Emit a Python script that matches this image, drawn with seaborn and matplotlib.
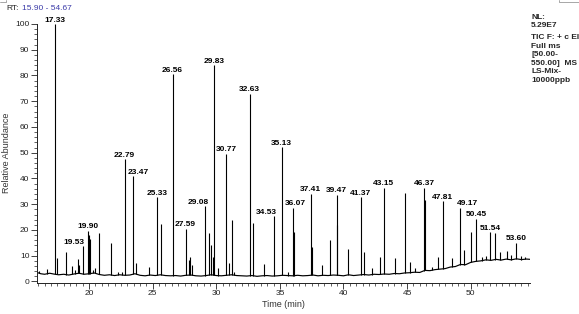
import numpy as np
import pandas as pd
import matplotlib
matplotlib.use("Agg")
import matplotlib.pyplot as plt
import seaborn as sns
from matplotlib.ticker import MultipleLocator
from matplotlib.lines import Line2D

# ---------------- data ----------------
peak_rt = [16.05, 16.66, 17.33, 17.45, 18.18, 18.65, 18.89, 19.15, 19.22, 19.53,
           19.90, 19.99, 20.09, 20.30, 20.50, 20.77, 21.74, 22.30, 22.56, 22.79,
           23.47, 23.68, 24.73, 25.33, 25.62, 26.56, 27.59, 27.85, 27.93, 28.11,
           29.08, 29.45, 29.58, 29.76, 29.83, 30.15, 30.77, 31.02, 31.26, 31.40,
           32.63, 32.90, 33.72, 34.53, 35.13, 35.66, 36.07, 36.13, 37.41, 37.54,
           38.35, 38.94, 39.47, 39.52, 40.32, 41.37, 41.61, 42.26, 42.87, 43.15,
           44.05, 44.83, 45.22, 45.62, 46.37, 46.45, 47.00, 47.40, 47.81, 48.50,
           49.17, 49.49, 50.02, 50.45, 50.90, 51.20, 51.54, 51.88, 52.30, 52.87,
           53.20, 53.60, 54.00, 54.30]
peak_height = [4.0, 4.8, 100.0, 9.0, 11.5, 6.0, 4.3, 8.6, 6.5, 13.7,
               19.7, 18.0, 16.4, 4.6, 5.2, 18.7, 14.8, 3.5, 3.6, 47.4,
               40.9, 7.2, 5.5, 32.7, 22.5, 80.4, 20.5, 8.5, 9.4, 6.4,
               29.2, 19.0, 14.0, 9.6, 83.9, 5.1, 49.6, 7.0, 23.9, 3.8,
               72.9, 22.8, 6.6, 25.4, 52.2, 3.8, 28.6, 19.3, 34.1, 13.5,
               6.4, 16.3, 33.7, 22.0, 12.5, 32.7, 11.6, 5.1, 9.5, 36.4,
               9.0, 34.2, 7.5, 5.3, 36.4, 31.6, 5.5, 9.4, 31.1, 9.0,
               28.6, 12.2, 19.3, 24.3, 9.5, 10.0, 19.1, 18.7, 11.6, 12.0,
               10.3, 15.0, 9.8, 9.6]

labeled_rt = [17.33, 19.53, 19.90, 22.79, 23.47, 25.33, 26.56, 27.59, 29.08, 29.83,
              30.77, 32.63, 34.53, 35.13, 36.07, 37.41, 39.47, 41.37, 43.15, 46.37,
              47.81, 49.17, 50.45, 51.54, 53.60]
labeled_text = ["17.33", "19.53", "19.90", "22.79", "23.47", "25.33", "26.56", "27.59",
                "29.08", "29.83", "30.77", "32.63", "34.53", "35.13", "36.07", "37.41",
                "39.47", "41.37", "43.15", "46.37", "47.81", "49.17", "50.45", "51.54",
                "53.60"]

base_rt = [15.90, 16.2, 16.5, 16.9, 17.2, 17.6, 18.0, 18.4, 18.8, 19.2, 19.6, 20.0,
           20.4, 20.8, 21.2, 21.6, 22.0, 22.4, 22.8, 23.2, 23.6, 24.0, 24.4, 24.8,
           25.2, 25.6, 26.0, 26.4, 26.8, 27.2, 27.6, 28.0, 28.4, 28.8, 29.2, 29.6,
           30.0, 30.4, 30.8, 31.2, 31.6, 32.0, 32.4, 32.8, 33.2, 33.6, 34.0, 34.4,
           34.8, 35.2, 35.6, 36.0, 36.4, 36.8, 37.2, 37.6, 38.0, 38.4, 38.8, 39.2,
           39.6, 40.0, 40.4, 40.8, 41.2, 41.6, 42.0, 42.4, 42.8, 43.2, 43.6, 44.0,
           44.4, 44.8, 45.2, 45.6, 46.0, 46.4, 46.8, 47.2, 47.6, 48.0, 48.4, 48.8,
           49.2, 49.6, 50.0, 50.4, 50.8, 51.2, 51.6, 52.0, 52.4, 52.8, 53.2, 53.6,
           54.0, 54.4, 54.67]
base_val = [3.5, 3.0, 2.8, 3.2, 2.9, 2.6, 2.8, 2.5, 2.9, 3.2, 2.8, 3.0,
            3.3, 2.7, 2.4, 2.6, 2.3, 2.6, 2.4, 2.5, 3.0, 2.4, 2.2, 2.5,
            2.3, 2.6, 2.3, 2.2, 2.3, 2.1, 2.4, 2.5, 2.2, 2.1, 2.3, 2.6,
            2.3, 2.2, 2.4, 2.6, 2.3, 2.2, 2.1, 2.3, 2.0, 2.2, 2.3, 2.1,
            2.2, 2.4, 2.3, 2.2, 2.4, 2.2, 2.3, 2.5, 2.2, 2.4, 2.3, 2.5,
            2.4, 2.2, 2.6, 2.3, 2.5, 2.7, 2.5, 2.8, 2.7, 2.9, 2.8, 3.1,
            3.0, 3.3, 3.4, 3.6, 3.5, 4.3, 4.2, 4.6, 4.8, 5.0, 5.6, 5.8,
            6.6, 6.5, 7.4, 7.8, 8.0, 8.4, 8.2, 8.6, 8.3, 8.7, 8.4, 8.8,
            8.5, 8.7, 8.6]

x_range = [15.90, 54.67]
x_ticks = [20, 25, 30, 35, 40, 45, 50]
y_ticks = [0, 10, 20, 30, 40, 50, 60, 70, 80, 90, 100]
rt_title = ["RT:", "15.90 - 54.67"]
info_top = ["NL:", "5.29E7"]
info_bottom = ["TIC F: + c EI", "Full ms", "[50.00-", "550.00]  MS", "LS-Mix-", "10000ppb"]

# label nudges (points) where the reference shifts a label sideways
label_dx = {"19.53": -7.0, "23.47": 3.9, "29.08": -4.5, "34.53": -5.8,
            "36.07": 1.2, "49.17": 5.3}

# ---------------- figure ----------------
sns.set_theme(style="ticks")
plt.rcParams['font.family'] = ['Liberation Sans', 'DejaVu Sans']

W, H = 579, 314
fig = plt.figure(figsize=(W / 100, H / 100), dpi=100)
ax = fig.add_axes([37 / W, 1 - 282.5 / H, 493 / W, 258.5 / H])

df_base = pd.DataFrame({"Time (min)": base_rt, "Relative Abundance": base_val})
sns.lineplot(data=df_base, x="Time (min)", y="Relative Abundance", color="black",
             lw=0.85, ax=ax, legend=False)
foot = np.interp(peak_rt, base_rt, base_val)
ax.vlines(peak_rt, foot, peak_height, color="black", lw=0.8)

for rt, txt in zip(labeled_rt, labeled_text):
    h = peak_height[peak_rt.index(rt)]
    ax.annotate(txt, (rt, h), xytext=(label_dx.get(txt, 0.0), 1.8),
                textcoords="offset points", ha="center", va="baseline",
                fontsize=6, fontweight="bold", color="black",
                annotation_clip=False)

ax.set_xlim(*x_range)
ax.set_ylim(-0.4, 100)
ax.set_xticks(x_ticks)
ax.set_yticks(y_ticks)
ax.xaxis.set_minor_locator(MultipleLocator(0.5))
ax.yaxis.set_minor_locator(MultipleLocator(2))
ax.tick_params(axis="both", which="major", length=4, width=0.6, labelsize=6,
               pad=1.5, colors="#222222", direction="out")
ax.tick_params(axis="both", which="minor", length=2, width=0.5,
               colors="#222222", direction="out")
for s in ["top", "right"]:
    ax.spines[s].set_visible(False)
for s in ["left", "bottom"]:
    ax.spines[s].set_linewidth(0.7)
    ax.spines[s].set_color("#222222")
ax.set_xlabel("Time (min)", fontsize=6.5, color="#333333", labelpad=2)
ax.set_ylabel("Relative Abundance", fontsize=6.5, color="#333333", labelpad=3)

# header texts
fig.text(6 / W, 1 - 8.5 / H, rt_title[0], fontsize=6, color="#222222",
         ha="left", va="center")
fig.text(21.5 / W, 1 - 8.5 / H, rt_title[1], fontsize=6, color="#3b3ba8",
         ha="left", va="center")
fig.text(531 / W, 1 - 14 / H, "\n".join(info_top), fontsize=6,
         fontweight="bold", ha="left", va="top", linespacing=1.15)
fig.text(531 / W, 1 - 34 / H, "\n".join(info_bottom), fontsize=6,
         fontweight="bold", ha="left", va="top", linespacing=1.32)

# small frame fragments at the top corners
fig.add_artist(Line2D([0, 6 / W, 6 / W], [1 - 1.5 / H, 1 - 1.5 / H, 1],
                      transform=fig.transFigure, color="#999999", lw=0.6))
fig.add_artist(Line2D([559 / W, 559 / W, 1], [1, 1 - 1.8 / H, 1 - 1.8 / H],
                      transform=fig.transFigure, color="#999999", lw=0.6))

fig.savefig("out.png", dpi=100)
